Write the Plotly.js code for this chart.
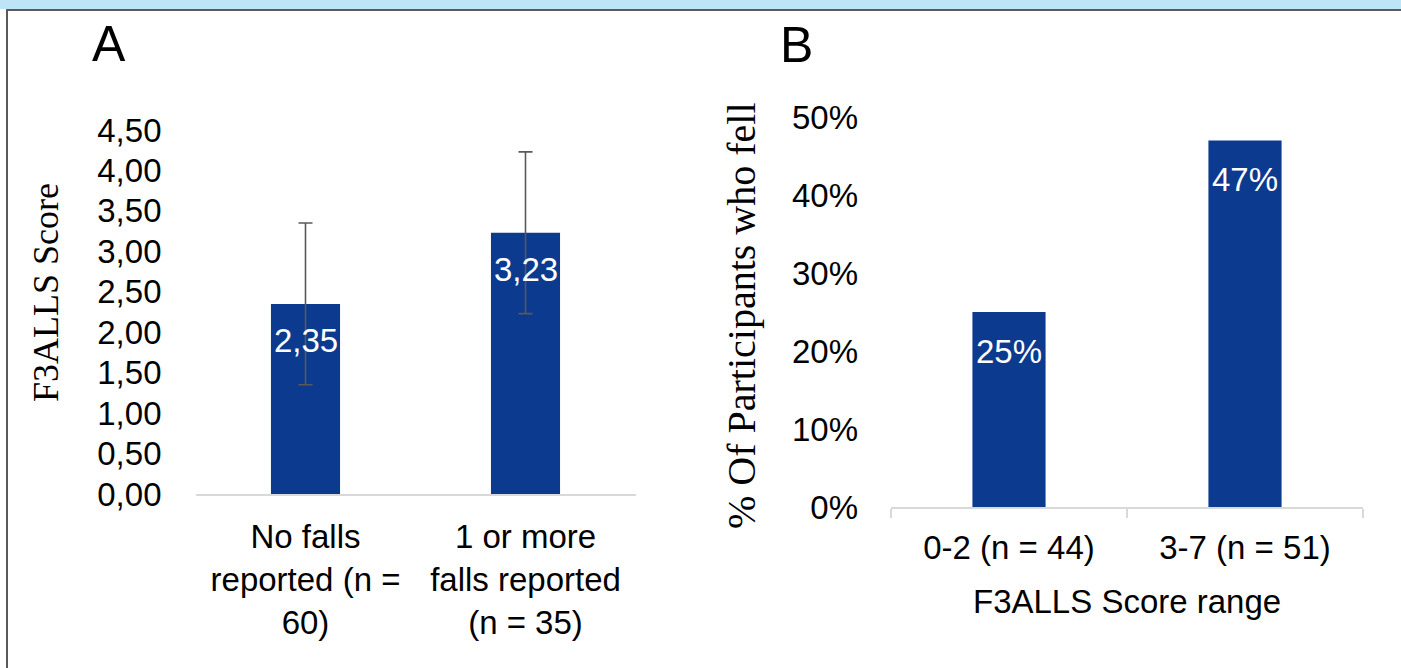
<!DOCTYPE html>
<html>
<head>
<meta charset="utf-8">
<script src="https://cdn.plot.ly/plotly-3.0.1.min.js"></script>
<style>
  html, body { margin:0; padding:0; background:#fff; overflow:hidden; }
  #chart { width:1401px; height:668px; }
</style>
</head>
<body>
<div id="chart"></div>
<script>
// Panel A data
const catsA = ["No falls<br>reported (n =<br>60)", "1 or more<br>falls reported<br>(n = 35)"];
const valsA = [2.35, 3.23];
const errA = [1.0, 1.0];
const ticksA = [0, 0.5, 1, 1.5, 2, 2.5, 3, 3.5, 4, 4.5];

// Panel B data
const catsB = ["0-2 (n = 44)", "3-7 (n = 51)"];
const valsB = [25, 47];
const ticksB = [0, 10, 20, 30, 40, 50];
const tickTextB = ticksB.map(t => t + "%");

const barColor = "#0b3a8f";
const sans = "Liberation Sans, Arial, Helvetica, sans-serif";
const serif = "Liberation Serif, Times New Roman, serif";
const fs = 33;

const W = 1401, H = 668;
const px = v => v / W;
const py = v => 1 - v / H;

const traceA = {
  type: "bar", x: catsA, y: valsA, xaxis: "x", yaxis: "y",
  marker: { color: barColor }, width: 0.314,
  error_y: { type: "data", array: errA, visible: true, color: "#595959", thickness: 1.6, width: 7 },
  hoverinfo: "none"
};
const traceB = {
  type: "bar", x: catsB, y: valsB, xaxis: "x2", yaxis: "y2",
  marker: { color: barColor }, width: 0.31,
  hoverinfo: "none"
};

const annotations = [];
valsA.forEach((v, i) => annotations.push({
  xref: "x", yref: "y", x: catsA[i], y: v, yshift: -37, showarrow: false,
  text: v.toFixed(2).replace(".", ","), font: { family: sans, size: fs, color: "#fff" },
  yanchor: "middle"
}));
valsB.forEach((v, i) => annotations.push({
  xref: "x2", yref: "y2", x: catsB[i], y: v, yshift: -39, showarrow: false,
  text: v + "%", font: { family: sans, size: fs, color: "#fff" },
  yanchor: "middle"
}));
annotations.push(
  { xref: "paper", yref: "paper", x: px(109), y: py(44), text: "A", showarrow: false,
    font: { family: sans, size: 50, color: "#000" }, xanchor: "center", yanchor: "middle" },
  { xref: "paper", yref: "paper", x: px(796), y: py(45), text: "B", showarrow: false,
    font: { family: sans, size: 50, color: "#000" }, xanchor: "center", yanchor: "middle" },
  { xref: "paper", yref: "paper", x: px(46), y: py(293), text: "F3ALLS Score", showarrow: false,
    textangle: -90, font: { family: serif, size: 36, color: "#000" }, xanchor: "center", yanchor: "middle" },
  { xref: "paper", yref: "paper", x: px(741), y: py(316), text: "% Of Participants who fell", showarrow: false,
    textangle: -90, font: { family: serif, size: 40, color: "#000" }, xanchor: "center", yanchor: "middle" },
  { xref: "paper", yref: "paper", x: px(1127), y: py(601), text: "F3ALLS Score range", showarrow: false,
    font: { family: sans, size: fs, color: "#000" }, xanchor: "center", yanchor: "middle" }
);

// Frame: light blue band at top, dark rule under it and down the left edge
const shapes = [
  { type: "rect", xref: "paper", yref: "paper", x0: 0, x1: 1, y0: py(9), y1: 1,
    fillcolor: "#bde4f7", line: { width: 0 }, layer: "above" },
  { type: "rect", xref: "paper", yref: "paper", x0: px(6), x1: 1, y0: py(11), y1: py(9),
    fillcolor: "#5a5a5a", line: { width: 0 }, layer: "above" },
  { type: "rect", xref: "paper", yref: "paper", x0: px(6), x1: px(8), y0: 0, y1: py(9),
    fillcolor: "#5a5a5a", line: { width: 0 }, layer: "above" }
];

const layout = {
  width: W, height: H,
  margin: { l: 0, r: 0, t: 0, b: 0 },
  paper_bgcolor: "#fff", plot_bgcolor: "rgba(0,0,0,0)",
  showlegend: false,
  separators: ",.",
  font: { family: sans, size: fs, color: "#000" },
  xaxis: {
    domain: [px(195.5), px(635.5)], anchor: "y",
    showline: true, linecolor: "#d9d9d9", linewidth: 1.5,
    ticks: "", showgrid: false, zeroline: false,
    tickfont: { family: sans, size: fs, color: "#000" },
    ticklabelstandoff: 13, fixedrange: true
  },
  yaxis: {
    domain: [py(494), py(130)], anchor: "x",
    range: [0, 4.5], tickvals: ticksA, tickformat: ".2f",
    showline: false, showgrid: false, zeroline: false, ticks: "",
    tickfont: { family: sans, size: fs, color: "#000" },
    ticklabelstandoff: 33, fixedrange: true
  },
  xaxis2: {
    domain: [px(891), px(1363)], anchor: "y2",
    showline: true, linecolor: "#d9d9d9", linewidth: 1.5,
    ticks: "outside", ticklen: 9, tickcolor: "#d9d9d9", tickwidth: 1.5,
    tickson: "boundaries",
    showgrid: false, zeroline: false,
    tickfont: { family: sans, size: fs, color: "#000" },
    ticklabelstandoff: 11, fixedrange: true
  },
  yaxis2: {
    domain: [py(507), py(117)], anchor: "x2",
    range: [0, 50], tickmode: "array", tickvals: ticksB, ticktext: tickTextB,
    showline: false, showgrid: false, zeroline: false, ticks: "",
    tickfont: { family: sans, size: fs, color: "#000" },
    ticklabelstandoff: 32, fixedrange: true
  },
  shapes: shapes,
  annotations: annotations
};

Plotly.newPlot("chart", [traceA, traceB], layout, { displayModeBar: false, staticPlot: true });
</script>
</body>
</html>
